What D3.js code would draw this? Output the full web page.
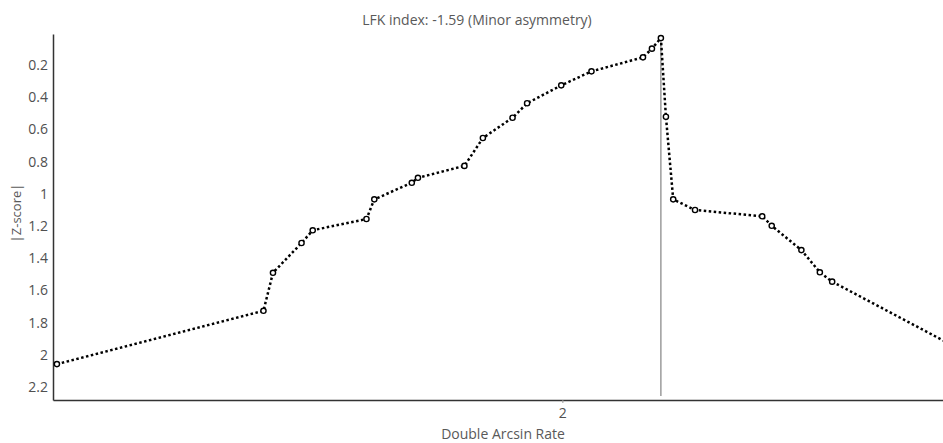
<!DOCTYPE html>
<html>
<head>
    <meta charset="utf-8">
    <title>LFK index</title>
    <script src="https://cdn.jsdelivr.net/npm/d3@7"></script>
    <style>
        body { margin: 0; background: #fff; }
        text { font-family: "Open Sans", "Noto Sans", sans-serif; fill: #595959; }
    </style>
</head>
<body>
<div id="main-svg"></div>
<script>
    // Doi plot points (x = double arcsin rate, y = |Z-score|)
    var rateValues = [1.097, 1.466, 1.483, 1.534, 1.554, 1.650, 1.664, 1.731, 1.742, 1.825,
                      1.858, 1.911, 1.937, 1.998, 2.052, 2.144, 2.160, 2.176, 2.185, 2.198,
                      2.237, 2.357, 2.374, 2.427, 2.460, 2.482, 2.871];
    var zValues = [2.057, 1.726, 1.490, 1.305, 1.226, 1.156, 1.034, 0.931, 0.900, 0.826,
                   0.653, 0.527, 0.437, 0.326, 0.239, 0.152, 0.098, 0.032, 0.521, 1.034,
                   1.100, 1.139, 1.198, 1.349, 1.487, 1.545, 2.262];
    var yTicks = [0.2, 0.4, 0.6, 0.8, 1, 1.2, 1.4, 1.6, 1.8, 2, 2.2];
    var xTicks = [2];
    var titleText = "LFK index: -1.59 (Minor asymmetry)";
    var xTitle = "Double Arcsin Rate";
    var yTitle = "|Z-score|";
    var peakRate = 2.176;

    var width = 943, height = 443;
    var mLeft = 53, mRight = 943, mTop = 34, mBottom = 400;

    var data = rateValues.map(function (d, i) { return { x: d, y: zValues[i] }; });

    var x = d3.scaleLinear().domain([1.09, 2.68]).range([mLeft, mRight]);
    var y = d3.scaleLinear().domain([0.007, 2.28]).range([mTop, mBottom]);

    var svg = d3.select("#main-svg").append("svg")
        .attr("width", width)
        .attr("height", height);

    svg.append("defs").append("clipPath").attr("id", "plot")
        .append("rect").attr("x", mLeft).attr("y", 0)
        .attr("width", mRight - mLeft).attr("height", mBottom);

    // title
    svg.append("text")
        .attr("x", 477).attr("y", 25)
        .attr("text-anchor", "middle")
        .style("font-size", "14px")
        .text(titleText);

    // y axis
    var yAxis = svg.append("g")
        .attr("transform", "translate(" + mLeft + ",0)")
        .call(d3.axisLeft(y).tickValues(yTicks).tickSize(0).tickPadding(5).tickFormat(d3.format("~g")));
    yAxis.select(".domain").attr("stroke", "#333").attr("stroke-width", 1.5);
    yAxis.selectAll("text").style("font-size", "14px").style("fill", "#505050");

    // x axis
    var xAxis = svg.append("g")
        .attr("transform", "translate(0," + mBottom + ")")
        .call(d3.axisBottom(x).tickValues(xTicks).tickSizeOuter(0).tickSizeInner(3).tickPadding(5).tickFormat(d3.format("~g")));
    xAxis.select(".domain").attr("stroke", "#333").attr("stroke-width", 1.5);
    xAxis.selectAll("line").attr("stroke", "#999");
    xAxis.selectAll("text").style("font-size", "14px").style("fill", "#505050");

    svg.append("text")
        .attr("x", 503).attr("y", 439)
        .attr("text-anchor", "middle")
        .style("font-size", "14px")
        .text(xTitle);

    svg.append("text")
        .attr("transform", "translate(21,213) rotate(-90)")
        .attr("text-anchor", "middle")
        .style("font-size", "13px")
        .text(yTitle);

    // vertical reference line at the peak
    svg.append("line")
        .attr("x1", x(peakRate)).attr("x2", x(peakRate))
        .attr("y1", y(d3.min(zValues))).attr("y2", y(d3.max(zValues)) - 1)
        .attr("stroke", "#8c8c8c")
        .attr("stroke-width", 1.3);

    var plot = svg.append("g").attr("clip-path", "url(#plot)");

    var line = d3.line()
        .x(function (d) { return x(d.x); })
        .y(function (d) { return y(d.y); });

    plot.append("path")
        .datum(data)
        .attr("d", line)
        .attr("fill", "none")
        .attr("stroke", "#000")
        .attr("stroke-width", 2.5)
        .attr("stroke-dasharray", "2.5,2.5");

    plot.selectAll("circle")
        .data(data)
        .enter()
        .append("circle")
        .attr("cx", function (d) { return x(d.x); })
        .attr("cy", function (d) { return y(d.y); })
        .attr("r", 2.6)
        .attr("fill", "#fff")
        .attr("stroke", "#000")
        .attr("stroke-width", 1.4);
</script>
</body>
</html>
